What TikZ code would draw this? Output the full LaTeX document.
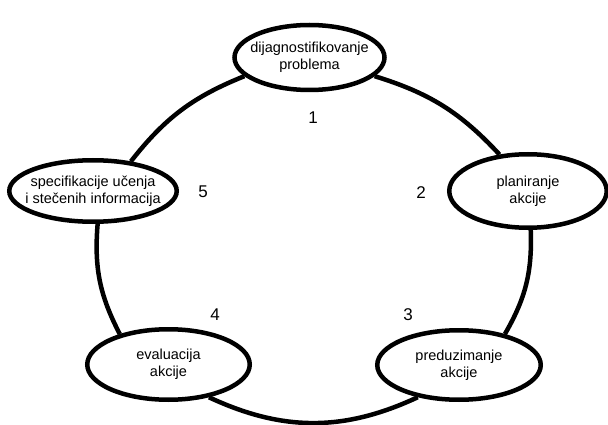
\documentclass[tikz,border=0pt]{standalone}
\usepackage{fontspec}
\setmainfont{Liberation Sans}
\usetikzlibrary{shapes.geometric}
\begin{document}
\begin{tikzpicture}[x=1pt,y=-1pt,
  stage/.style={ellipse, draw, line width=4.5pt, inner sep=0pt},
  txt/.style={align=center, inner sep=0pt, font=\fontsize{14.5}{17}\selectfont},
  link/.style={line width=4.5pt},
  num/.style={font=\fontsize{17}{17}\selectfont, inner sep=0pt}]
\useasboundingbox (0,0) rectangle (608,425);
\node[stage, minimum width=150pt, minimum height=65pt,
  label={[txt]center:dijagnostifikovanje\\problema}] (T) at (309.5,57.5) {};
\node[stage, minimum width=157.5pt, minimum height=73.5pt,
  label={[txt]center:planiranje\\akcije}] (R) at (528,191) {};
\node[stage, minimum width=163.5pt, minimum height=69.5pt,
  label={[txt]center:preduzimanje\\akcije}] (BR) at (459,365) {};
\node[stage, minimum width=162.5pt, minimum height=70.5pt,
  label={[txt]center:evaluacija\\akcije}] (BL) at (168.5,364.5) {};
\node[stage, minimum width=167.5pt, minimum height=61.5pt,
  label={[txt]center:specifikacije učenja\\i stečenih informacija}] (L) at (93,191) {};
\draw[link] (T.344) to[bend left=15] (R.128);
\draw[link] (R.274) to[bend left=16] (BR.34);
\draw[link] (BR.218) to[bend left=25] (BL.321);
\draw[link] (BL.148) to[bend left=16] (L.278);
\draw[link] (L.38) to[bend left=15] (T.196);
\node[num] (n1) at (313,118) {1};
\node[num] (n2) at (421,193) {2};
\node[num] (n3) at (408,315) {3};
\node[num] (n4) at (215,315) {4};
\node[num] (n5) at (203,192) {5};
\end{tikzpicture}
\end{document}
